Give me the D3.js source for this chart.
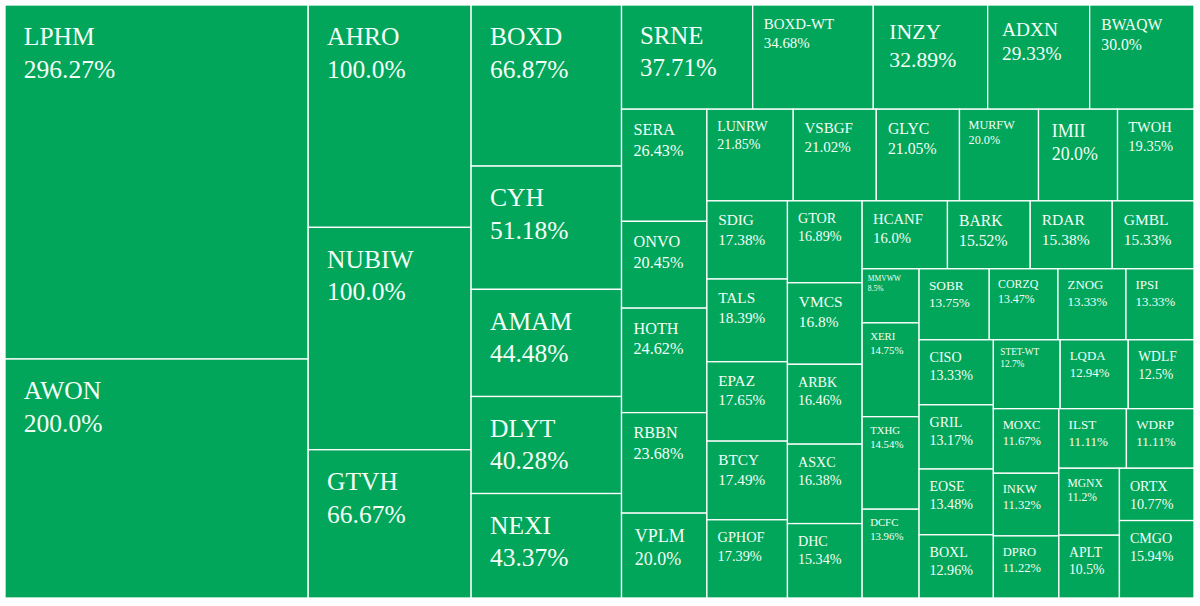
<!DOCTYPE html>
<html><head><meta charset="utf-8">
<script src="https://cdn.jsdelivr.net/npm/d3@7"></script>
<style>html,body{margin:0;padding:0;background:#fff;} svg{display:block;} text{font-family:"Liberation Serif","Tinos","Times New Roman",serif;}</style>
</head><body>
<svg id="chart" width="1200" height="606"></svg>
<script>
const tickers = ["LPHM","AWON","AHRO","NUBIW","GTVH","BOXD","CYH","AMAM","DLYT","NEXI",
  "SRNE","BOXD-WT","INZY","ADXN","BWAQW","SERA","ONVO","HOTH","RBBN","VPLM",
  "LUNRW","VSBGF","GLYC","MURFW","IMII","TWOH","SDIG","TALS","EPAZ","BTCY","GPHOF",
  "GTOR","VMCS","ARBK","ASXC","DHC","HCANF","BARK","RDAR","GMBL",
  "MMVWW","XERI","TXHG","DCFC","SOBR","CORZQ","ZNOG","IPSI",
  "CISO","GRIL","EOSE","BOXL","STET-WT","LQDA","WDLF","MOXC","INKW","DPRO",
  "ILST","WDRP","MGNX","APLT","ORTX","CMGO"];
const changes = [296.27,200.0,100.0,100.0,66.67,66.87,51.18,44.48,40.28,43.37,
  37.71,34.68,32.89,29.33,30.0,26.43,20.45,24.62,23.68,20.0,
  21.85,21.02,21.05,20.0,20.0,19.35,17.38,18.39,17.65,17.49,17.39,
  16.89,16.8,16.46,16.38,15.34,16.0,15.52,15.38,15.33,
  8.5,14.75,14.54,13.96,13.75,13.47,13.33,13.33,
  13.33,13.17,13.48,12.96,12.7,12.94,12.5,11.67,11.32,11.22,
  11.11,11.11,11.2,10.5,10.77,15.94];

const fillColor = "#02a65a";
const svg = d3.select("#chart");
const X0 = 5, Y0 = 5, X1 = 1194, Y1 = 598;

const root = d3.hierarchy({children: tickers.map((t,i)=>({name:t, value:changes[i]}))})
  .sum(d => d.children ? 0 : d.value);
d3.treemap().tile(d3.treemapSquarify.ratio(1)).size([X1-X0, Y1-Y0])(root);

const fmt = v => { let s = String(v); if (s.indexOf(".") < 0) s += ".0"; return s + "%"; };

const g = svg.append("g").attr("transform", `translate(${X0},${Y0})`);
const measure = svg.append("text").style("font-size", "100px").attr("x", -1000).attr("y", -1000);
function tw(s){ measure.text(s); return measure.node().getComputedTextLength()/100; }

const leaves = root.leaves();
const cell = g.selectAll("g.cell").data(leaves).join("g").attr("class","cell");
cell.append("rect")
  .attr("x", d => d.x0).attr("y", d => d.y0)
  .attr("width", d => d.x1 - d.x0).attr("height", d => d.y1 - d.y0)
  .attr("fill", fillColor).attr("stroke", "#fff").attr("stroke-width", 1.3);

cell.each(function(d){
  const w = d.x1 - d.x0, h = d.y1 - d.y0;
  const l1 = d.data.name, l2 = fmt(d.data.value);
  const m = Math.max(tw(l1), tw(l2));
  const fs = Math.min(25.5, 0.585 * w / m, h / 3.3);
  const sel = d3.select(this);
  const tx = d.x0 + 0.74 * fs;
  sel.append("text").attr("x", tx).attr("y", d.y0 + 1.58 * fs)
    .style("font-size", fs + "px").attr("fill", "#f4fff8").text(l1);
  sel.append("text").attr("x", tx).attr("y", d.y0 + 2.86 * fs)
    .style("font-size", fs + "px").attr("fill", "#f4fff8").text(l2);
});
measure.remove();
</script>
</body></html>
